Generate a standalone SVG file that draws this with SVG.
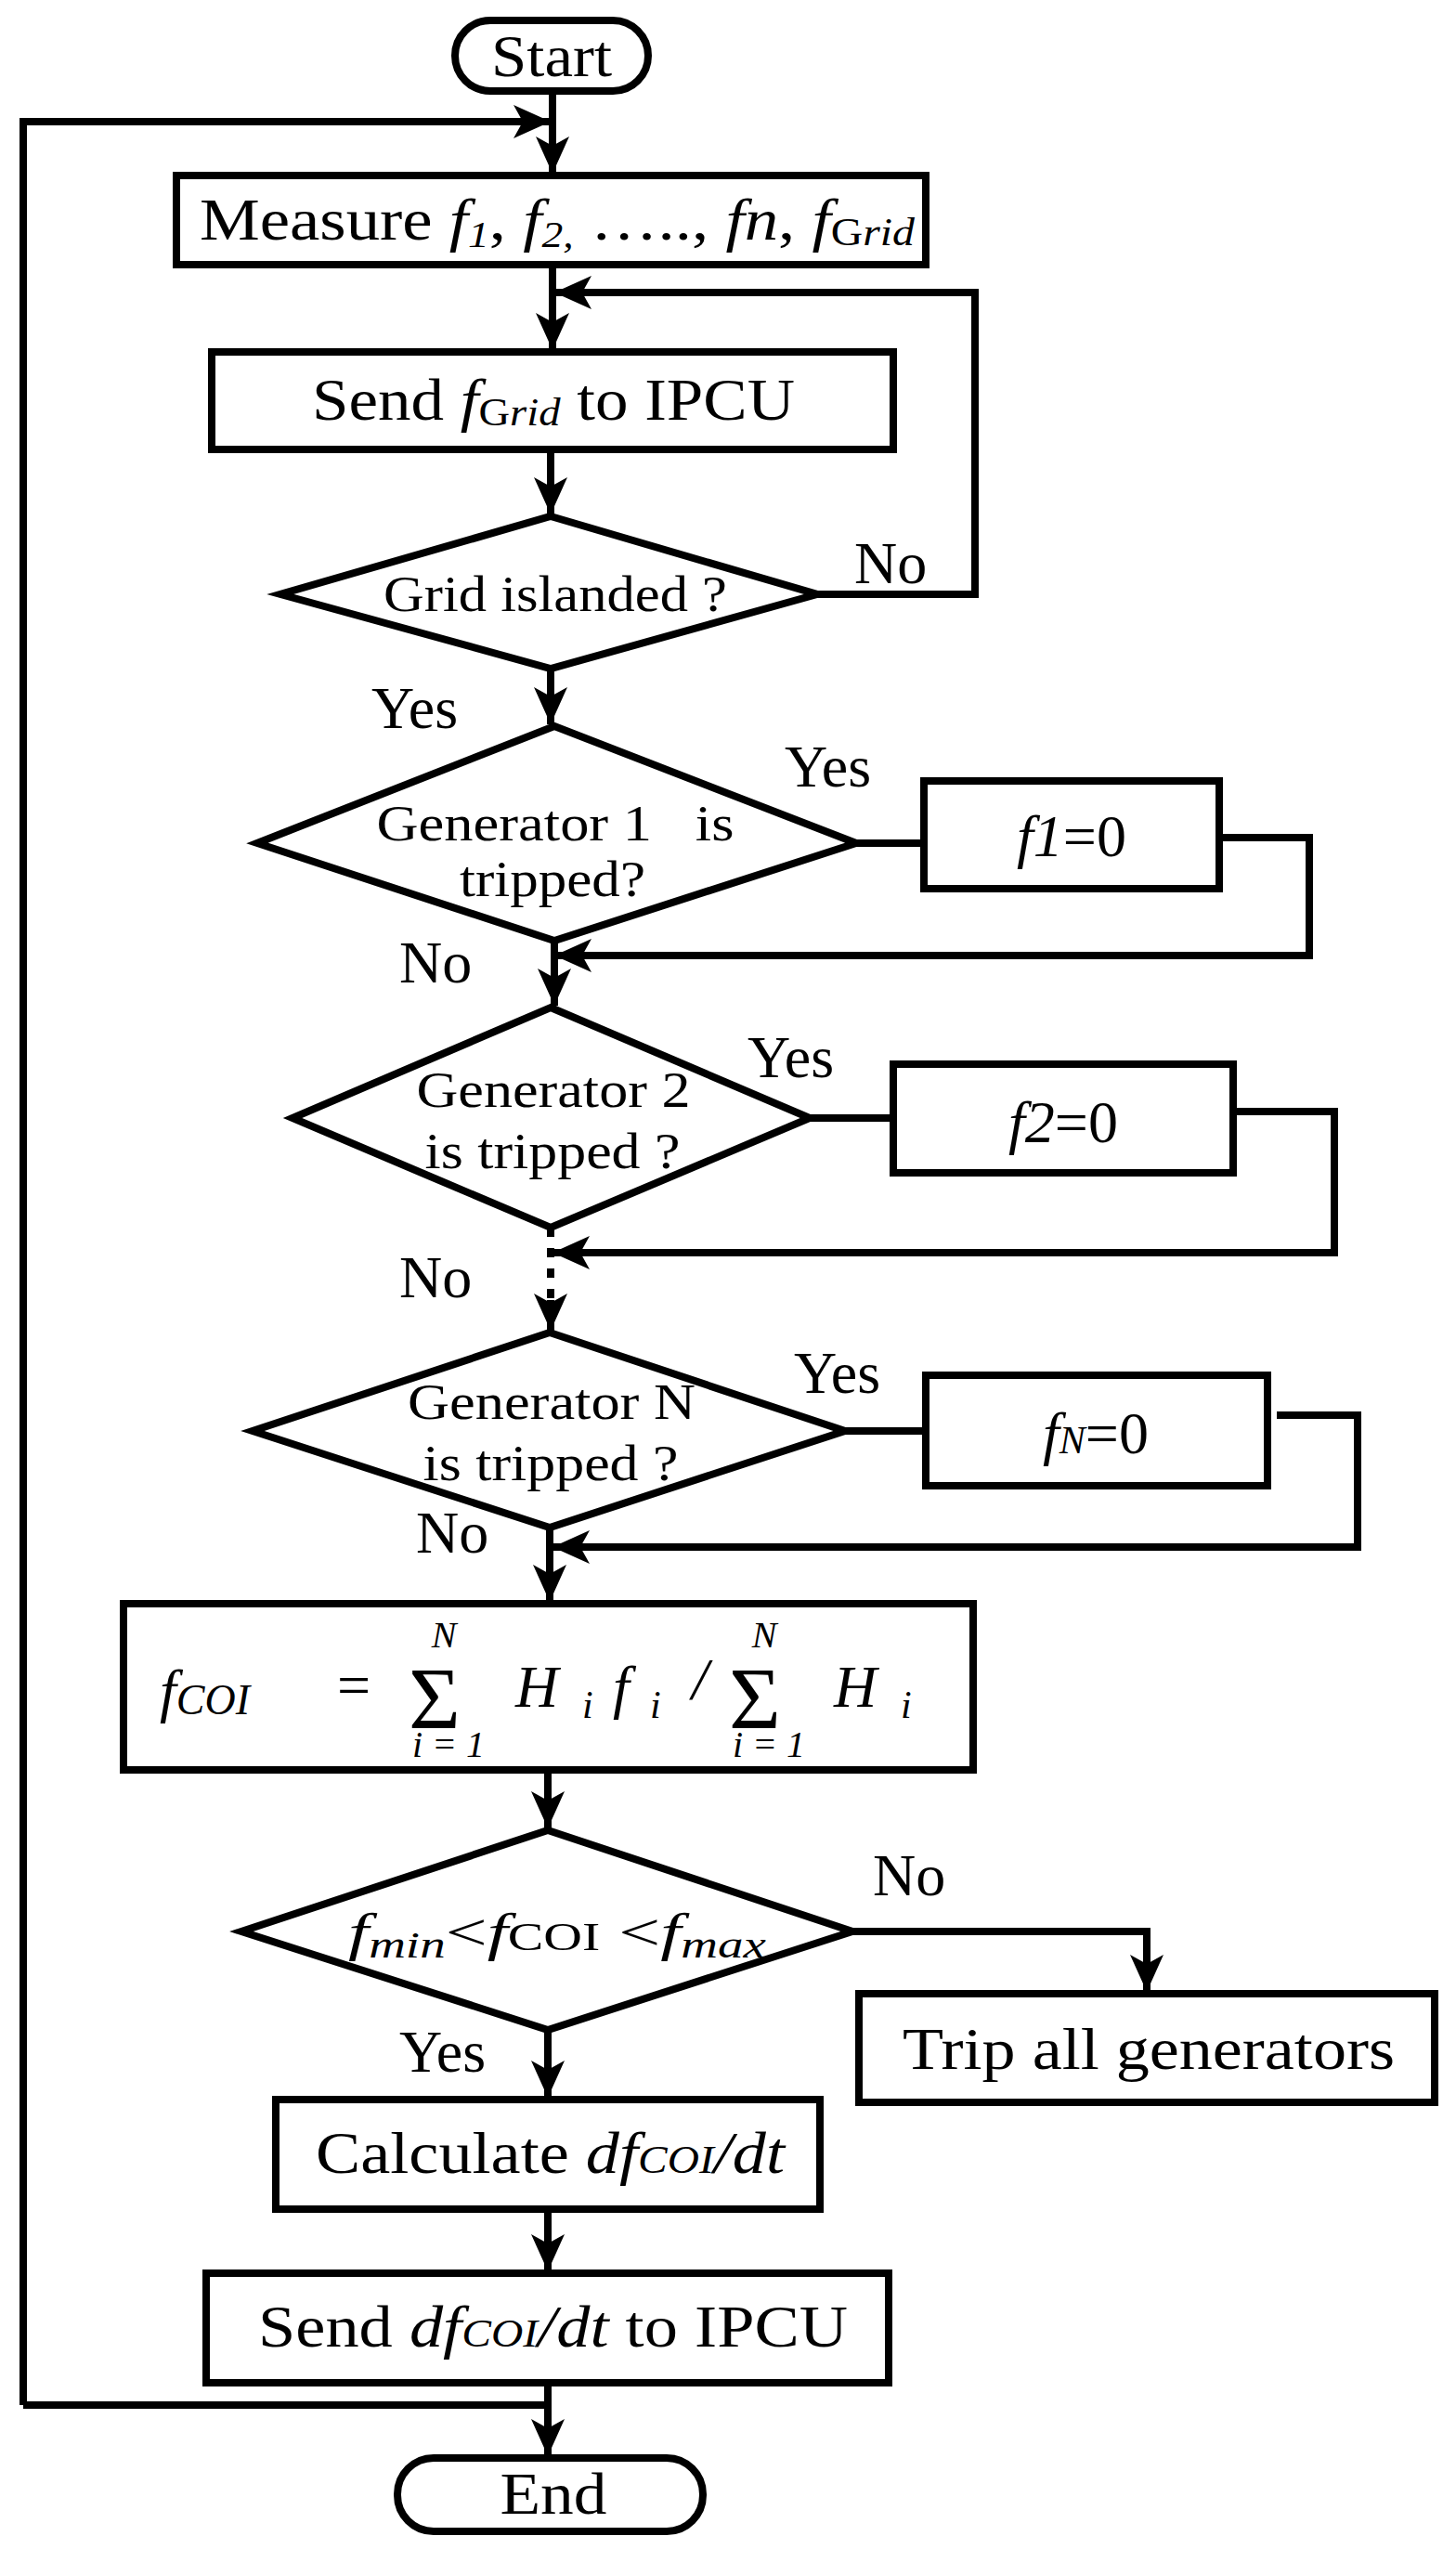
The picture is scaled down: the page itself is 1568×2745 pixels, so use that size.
<svg xmlns="http://www.w3.org/2000/svg" width="1568" height="2745" viewBox="0 0 1568 2745">
<style>
.s{fill:#fff;stroke:#000;stroke-width:8;stroke-linejoin:miter}
.c{fill:none;stroke:#000;stroke-width:8}
.t{font-family:"Liberation Serif","Times New Roman",serif;font-size:64px;fill:#000;text-anchor:middle}
.d{font-family:"Liberation Serif","Times New Roman",serif;font-size:54px;fill:#000;text-anchor:middle}
.l{font-family:"Liberation Serif","Times New Roman",serif;font-size:64px;fill:#000}
.i{font-style:italic}
</style>
<defs>
<marker id="a" markerUnits="userSpaceOnUse" markerWidth="40" markerHeight="36" refX="40" refY="18" orient="auto">
<path d="M0,0 L40,18 L0,36 L10,18 Z" fill="#000"/>
</marker>
</defs>
<g id="connectors">
<path class="c" d="M595,98 V187" marker-end="url(#a)"/>
<path class="c" d="M25,2590 V131 H593" marker-end="url(#a)"/>
<path class="c" d="M595,285 V377" marker-end="url(#a)"/>
<path class="c" d="M880,640 H1050 V315 H597" marker-end="url(#a)"/>
<path class="c" d="M593,484 V554" marker-end="url(#a)"/>
<path class="c" d="M593,720 V780" marker-end="url(#a)"/>
<path class="c" d="M922,908 H995"/>
<path class="c" d="M1313,902 H1410 V1029 H597" marker-end="url(#a)"/>
<path class="c" d="M597,1013 V1083" marker-end="url(#a)"/>
<path class="c" d="M872,1204 H962"/>
<path class="c" d="M1328,1197 H1437 V1349 H595" marker-end="url(#a)"/>
<path class="c" d="M593,1322 V1400" stroke-dasharray="10,12"/>
<path class="c" d="M593,1400 V1433" marker-end="url(#a)"/>
<path class="c" d="M910,1541 H997"/>
<path class="c" d="M1375,1524 H1462 V1666 H595" marker-end="url(#a)"/>
<path class="c" d="M592,1645 V1725" marker-end="url(#a)"/>
<path class="c" d="M590,1906 V1969" marker-end="url(#a)"/>
<path class="c" d="M918,2080 H1235 V2145" marker-end="url(#a)"/>
<path class="c" d="M590,2186 V2259" marker-end="url(#a)"/>
<path class="c" d="M590,2379 V2446" marker-end="url(#a)"/>
<path class="c" d="M590,2566 V2645" marker-end="url(#a)"/>
<path class="c" d="M25,2590 H590"/>
</g>
<g id="start"><rect class="s" x="490" y="22" width="208" height="76" rx="38"/><text class="t" x="594" y="82" textLength="130" lengthAdjust="spacingAndGlyphs">Start</text></g>
<g id="measure"><rect class="s" x="190" y="189" width="807" height="96"/>
<text class="l" x="215" y="258" textLength="770" lengthAdjust="spacingAndGlyphs">Measure <tspan class="i">f</tspan><tspan class="i" font-size="40" dy="8">1</tspan><tspan dy="-8">, </tspan><tspan class="i">f</tspan><tspan class="i" font-size="40" dy="8">2,</tspan><tspan dy="-8"> ….., </tspan><tspan class="i">fn</tspan>, <tspan class="i">f</tspan><tspan font-size="42" dy="6">G</tspan><tspan class="i" font-size="42">rid</tspan></text></g>
<g id="sendgrid"><rect class="s" x="228" y="379" width="734" height="105"/>
<text class="l" x="336" y="452" textLength="520" lengthAdjust="spacingAndGlyphs">Send <tspan class="i">f</tspan><tspan font-size="42" dy="6">G</tspan><tspan class="i" font-size="42">rid</tspan><tspan dy="-6"> to IPCU</tspan></text></g>
<g id="islanded"><polygon class="s" points="593,556 880,640 593,720 302,640"/><text class="d" x="598" y="658" textLength="370" lengthAdjust="spacingAndGlyphs">Grid islanded ?</text></g>
<g id="gen1"><polygon class="s" points="597,782 922,908 597,1013 277,908"/><text class="d" x="598" y="905" xml:space="preserve" textLength="385" lengthAdjust="spacingAndGlyphs">Generator 1   is</text><text class="d" x="595" y="965" textLength="200" lengthAdjust="spacingAndGlyphs">tripped?</text></g>
<g id="f1"><rect class="s" x="995" y="841" width="318" height="116"/><text class="t" x="1154" y="922"><tspan class="i">f1</tspan>=0</text></g>
<g id="gen2"><polygon class="s" points="593,1085 872,1204 593,1322 315,1204"/><text class="d" x="596" y="1192" textLength="295" lengthAdjust="spacingAndGlyphs">Generator 2</text><text class="d" x="595" y="1258" textLength="275" lengthAdjust="spacingAndGlyphs">is tripped ?</text></g>
<g id="f2"><rect class="s" x="962" y="1146" width="366" height="117"/><text class="t" x="1145" y="1230"><tspan class="i">f2</tspan>=0</text></g>
<g id="genN"><polygon class="s" points="592,1435 910,1541 592,1645 272,1541"/><text class="d" x="594" y="1528" textLength="310" lengthAdjust="spacingAndGlyphs">Generator N</text><text class="d" x="593" y="1594" textLength="275" lengthAdjust="spacingAndGlyphs">is tripped ?</text></g>
<g id="fN"><rect class="s" x="997" y="1481" width="368" height="119"/><text class="t" x="1180" y="1565"><tspan class="i">f</tspan><tspan class="i" font-size="42">N</tspan>=0</text></g>
<g id="coi"><rect class="s" x="133" y="1727" width="915" height="179"/>
<text class="l i" x="172" y="1842">f<tspan font-size="46" dy="4">COI</tspan></text>
<text class="l" x="363" y="1836">=</text>
<text class="l" x="440" y="1862" style="font-size:96px">Σ</text>
<text class="d i" x="478" y="1774" style="font-size:40px">N</text>
<text class="d i" x="483" y="1892" style="font-size:40px">i = 1</text>
<text class="l i" x="555" y="1838">H</text><text class="l i" x="627" y="1850" style="font-size:42px">i</text>
<text class="l i" x="660" y="1838">f</text><text class="l i" x="700" y="1850" style="font-size:42px">i</text>
<text class="l i" x="745" y="1830">/</text>
<text class="l" x="785" y="1862" style="font-size:96px">Σ</text>
<text class="d i" x="823" y="1774" style="font-size:40px">N</text>
<text class="d i" x="828" y="1892" style="font-size:40px">i = 1</text>
<text class="l i" x="898" y="1838">H</text><text class="l i" x="970" y="1850" style="font-size:42px">i</text></g>
<g id="range"><polygon class="s" points="590,1971 918,2080 590,2186 260,2080"/>
<text class="l" x="375" y="2100" style="font-size:58px" textLength="450" lengthAdjust="spacingAndGlyphs"><tspan class="i">f</tspan><tspan class="i" font-size="40" dy="8">min</tspan><tspan dy="-8">&lt;</tspan><tspan class="i">f</tspan><tspan font-size="42">COI</tspan> &lt;<tspan class="i">f</tspan><tspan class="i" font-size="40" dy="8">max</tspan></text></g>
<g id="trip"><rect class="s" x="925" y="2147" width="620" height="117"/><text class="t" x="1237" y="2228" textLength="530" lengthAdjust="spacingAndGlyphs">Trip all generators</text></g>
<g id="calc"><rect class="s" x="297" y="2261" width="586" height="118"/>
<text class="l" x="340" y="2340" textLength="505" lengthAdjust="spacingAndGlyphs">Calculate <tspan class="i">df</tspan><tspan class="i" font-size="42">COI</tspan><tspan class="i">/dt</tspan></text></g>
<g id="senddf"><rect class="s" x="222" y="2448" width="735" height="118"/>
<text class="l" x="278" y="2527" textLength="635" lengthAdjust="spacingAndGlyphs">Send <tspan class="i">df</tspan><tspan class="i" font-size="42">COI</tspan><tspan class="i">/dt</tspan> to IPCU</text></g>
<g id="end"><rect class="s" x="428" y="2647" width="329" height="79" rx="39"/><text class="t" x="596" y="2707" textLength="115" lengthAdjust="spacingAndGlyphs">End</text></g>
<g id="labels">
<text class="l" x="920" y="628">No</text>
<text class="l" x="400" y="784">Yes</text>
<text class="l" x="845" y="847">Yes</text>
<text class="l" x="430" y="1058">No</text>
<text class="l" x="805" y="1160">Yes</text>
<text class="l" x="430" y="1397">No</text>
<text class="l" x="855" y="1500">Yes</text>
<text class="l" x="448" y="1672">No</text>
<text class="l" x="940" y="2041">No</text>
<text class="l" x="430" y="2231">Yes</text>
</g>
</svg>
